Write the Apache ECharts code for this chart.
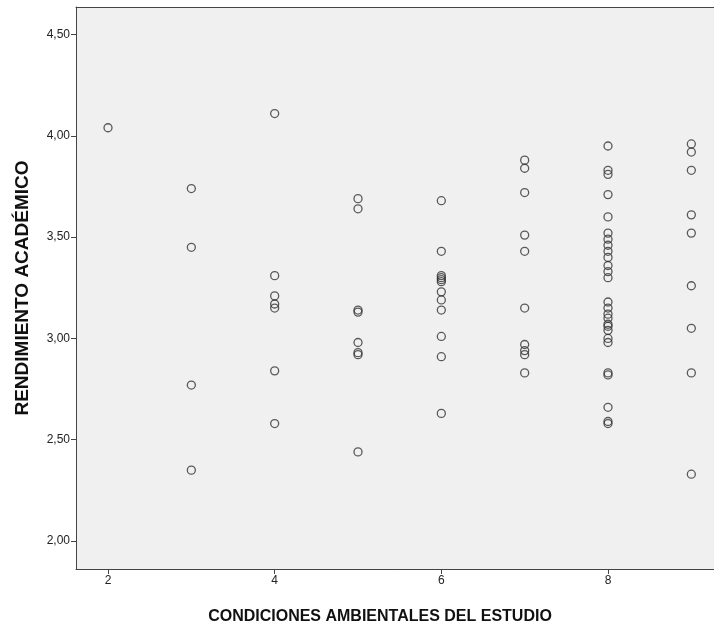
<!DOCTYPE html>
<html>
<head>
<meta charset="utf-8">
<script src="https://cdn.jsdelivr.net/npm/echarts@6/dist/echarts.min.js"></script>
<style>html,body{margin:0;padding:0;background:#fff;}#c{width:714px;height:630px;}</style>
</head>
<body>
<div id="c"></div>
<script>
// CONDICIONES AMBIENTALES DEL ESTUDIO (x) vs RENDIMIENTO ACADÉMICO (y)
var x2 = [4.04];
var x3 = [3.74, 3.45, 2.77, 2.35];
var x4 = [4.11, 3.31, 3.21, 3.17, 3.15, 2.84, 2.58];
var x5 = [3.69, 3.64, 3.14, 3.13, 2.98, 2.93, 2.92, 2.44];
var x6 = [3.68, 3.43, 3.31, 3.30, 3.29, 3.28, 3.23, 3.19, 3.14, 3.01, 2.91, 2.63];
var x7 = [3.88, 3.84, 3.72, 3.51, 3.43, 3.15, 2.97, 2.94, 2.92, 2.83];
var x8 = [3.95, 3.83, 3.81, 3.71, 3.60, 3.52, 3.49, 3.46, 3.43, 3.40, 3.36, 3.33, 3.30,
          3.18, 3.15, 3.12, 3.10, 3.07, 3.06, 3.04, 3.00, 2.98, 2.83, 2.82, 2.66, 2.59, 2.58];
var x9 = [3.96, 3.92, 3.83, 3.61, 3.52, 3.26, 3.05, 2.83, 2.33];
var groups = [[2, x2], [3, x3], [4, x4], [5, x5], [6, x6], [7, x7], [8, x8], [9, x9]];
var xTicks = [2, 4, 6, 8];
var yTicks = [2.0, 2.5, 3.0, 3.5, 4.0, 4.5];

var points = [];
groups.forEach(function (g) { g[1].forEach(function (v) { points.push([g[0], v]); }); });

var FONT = 'Liberation Sans, Arial, sans-serif';
var chart = echarts.init(document.getElementById('c'));
chart.setOption({
  animation: false,
  backgroundColor: '#ffffff',
  grid: {
    left: 76, top: 7, right: 0, bottom: 59,
    show: true, backgroundColor: '#f0f0f0', borderWidth: 0
  },
  xAxis: [{
    type: 'value', min: 1.616, max: 9.272,
    splitLine: { show: false },
    axisLine: { show: true, lineStyle: { color: '#444', width: 1 } },
    axisTick: { show: true, customValues: xTicks, length: 5, lineStyle: { color: '#444' } },
    axisLabel: { customValues: xTicks, color: '#222', fontSize: 12, fontFamily: FONT, margin: 6 },
    name: 'CONDICIONES AMBIENTALES DEL ESTUDIO',
    nameLocation: 'middle', nameGap: 40,
    nameTextStyle: { fontSize: 16, fontWeight: 'bold', color: '#111', fontFamily: FONT, padding: [0, 30, 0, 0] }
  }, {
    type: 'value', position: 'top', min: 1.616, max: 9.272,
    splitLine: { show: false },
    axisLine: { show: true, lineStyle: { color: '#444', width: 1 } },
    axisTick: { show: false }, axisLabel: { show: false }
  }],
  yAxis: {
    type: 'value', min: 1.862, max: 4.636,
    splitLine: { show: false },
    axisLine: { show: true, lineStyle: { color: '#444', width: 1 } },
    axisTick: { show: true, customValues: yTicks, length: 5, lineStyle: { color: '#444' } },
    axisLabel: {
      customValues: yTicks, color: '#222', fontSize: 12, fontFamily: FONT, margin: 6,
      formatter: function (v) { return v.toFixed(2).replace('.', ','); }
    },
    name: 'RENDIMIENTO ACADÉMICO',
    nameLocation: 'middle', nameGap: 44,
    nameTextStyle: { fontSize: 19, fontWeight: 'bold', color: '#111', fontFamily: FONT }
  },
  series: [{
    type: 'scatter',
    xAxisIndex: 0,
    data: points,
    symbol: 'circle',
    symbolSize: 8,
    itemStyle: { color: 'rgba(0,0,0,0)', borderColor: '#333', borderWidth: 1.3 }
  }]
});
</script>
</body>
</html>
